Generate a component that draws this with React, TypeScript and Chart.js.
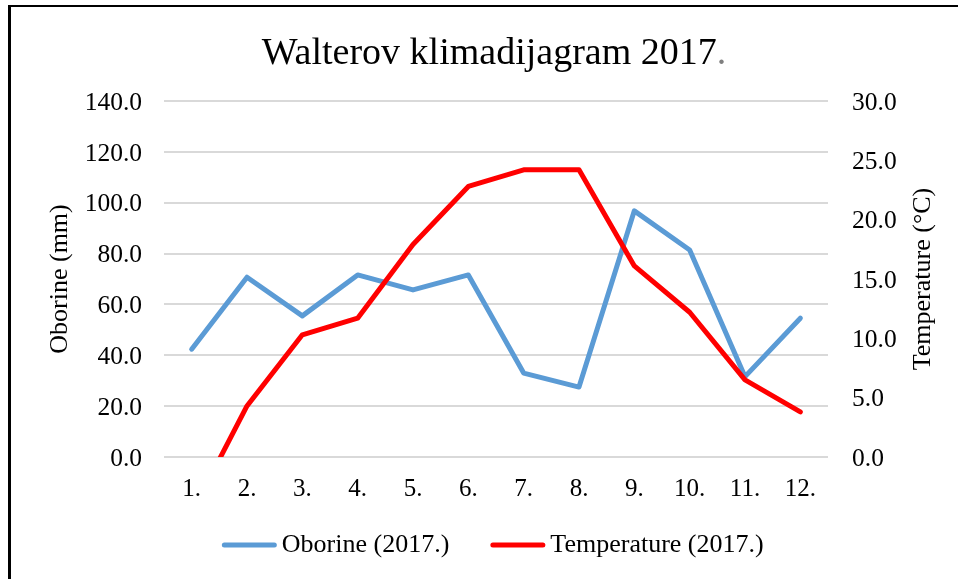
import React, { useEffect, useRef } from 'react';
import { Chart, registerables } from 'chart.js';

Chart.register(...registerables);

const months = ['1.', '2.', '3.', '4.', '5.', '6.', '7.', '8.', '9.', '10.', '11.', '12.'];
const oborine = [42.4, 70.7, 55.5, 71.6, 65.7, 71.6, 33.0, 27.5, 96.8, 81.4, 31.6, 54.6];
const temperature = [-4.7, 4.3, 10.3, 11.7, 17.9, 22.8, 24.2, 24.2, 16.1, 12.2, 6.5, 3.8];
const seriesNames = ['Oborine (2017.)', 'Temperature (2017.)'];
const titleMain = 'Walterov klimadijagram 2017';
const titleDot = '.';
const leftAxisTitle = 'Oborine (mm)';
const rightAxisTitle = 'Temperature (°C)';

const FONT = '"Liberation Serif", "Times New Roman", serif';
const BLUE = '#5b9bd5';
const RED = '#ff0000';

const W = 958;
const H = 579;
const CENTER_X = 494;

const overlayPlugin = {
  id: 'overlay',
  afterDraw(chart: any) {
    const ctx = chart.ctx as CanvasRenderingContext2D;
    const ca = chart.chartArea;
    // Title
    ctx.save();
    ctx.font = `38px ${FONT}`;
    ctx.textBaseline = 'alphabetic';
    ctx.textAlign = 'left';
    const wMain = ctx.measureText(titleMain).width;
    const wDot = ctx.measureText(titleDot).width;
    const tx = CENTER_X - (wMain + wDot) / 2;
    ctx.fillStyle = '#000';
    ctx.fillText(titleMain, tx, 64);
    ctx.fillStyle = '#7f7f7f';
    ctx.fillText(titleDot, tx + wMain, 64);
    ctx.restore();

    // Right axis title (reads bottom-to-top)
    ctx.save();
    ctx.font = `26px ${FONT}`;
    ctx.translate(923, (ca.top + ca.bottom) / 2);
    ctx.rotate(-Math.PI / 2);
    ctx.textAlign = 'center';
    ctx.textBaseline = 'middle';
    ctx.fillStyle = '#000';
    ctx.fillText(rightAxisTitle, 0, 0);
    ctx.restore();

    // Legend (order: Oborine, Temperature)
    ctx.save();
    ctx.font = `26px ${FONT}`;
    const items = [chart.data.datasets[1], chart.data.datasets[0]];
    const lineLen = 50;
    const gapLT = 7.5;
    const gapItems = 43.5;
    const widths = items.map((d: any) => ctx.measureText(d.label).width);
    const total = items.reduce((s: number, _d: any, i: number) => s + lineLen + gapLT + widths[i], 0) + gapItems * (items.length - 1);
    let x = CENTER_X - total / 2;
    const ly = 545;
    items.forEach((d: any, i: number) => {
      ctx.beginPath();
      ctx.strokeStyle = d.borderColor;
      ctx.lineWidth = 5;
      ctx.lineCap = 'round';
      ctx.moveTo(x, ly);
      ctx.lineTo(x + lineLen, ly);
      ctx.stroke();
      x += lineLen + gapLT;
      ctx.fillStyle = '#000';
      ctx.textAlign = 'left';
      ctx.textBaseline = 'middle';
      ctx.fillText(d.label, x, ly);
      x += widths[i] + gapItems;
    });
    ctx.restore();
  },
};

export default function App() {
  const canvasRef = useRef<HTMLCanvasElement | null>(null);

  useEffect(() => {
    const canvas = canvasRef.current;
    if (!canvas) return;
    const chart = new Chart(canvas, {
      type: 'line',
      data: {
        labels: months,
        datasets: [
          {
            label: seriesNames[1],
            data: temperature,
            yAxisID: 'y1',
            borderColor: RED,
            backgroundColor: RED,
            borderWidth: 5,
            pointRadius: 0,
            borderCapStyle: 'round',
            borderJoinStyle: 'round',
            tension: 0,
          },
          {
            label: seriesNames[0],
            data: oborine,
            yAxisID: 'y',
            borderColor: BLUE,
            backgroundColor: BLUE,
            borderWidth: 5,
            pointRadius: 0,
            borderCapStyle: 'round',
            borderJoinStyle: 'round',
            tension: 0,
          },
        ],
      },
      options: {
        responsive: false,
        animation: false,
        devicePixelRatio: 1,
        layout: { padding: { top: 101, left: 0, right: 0, bottom: 0 } },
        plugins: {
          legend: { display: false },
          title: { display: false },
          tooltip: { enabled: false },
        },
        scales: {
          x: {
            offset: true,
            grid: { display: false, drawTicks: false },
            border: { display: false },
            ticks: { color: '#000', font: { family: FONT, size: 25 }, padding: 17, maxRotation: 0, autoSkip: false },
            afterFit: (s: any) => { s.height = H - 457; },
          },
          y: {
            position: 'left',
            min: 0,
            max: 140,
            grid: { color: '#d9d9d9', lineWidth: 2, drawTicks: false },
            border: { display: false },
            ticks: {
              stepSize: 20,
              color: '#000',
              font: { family: FONT, size: 25.5 },
              padding: 22,
              labelOffset: 2,
              callback: (v: any) => Number(v).toFixed(1),
            },
            title: {
              display: true,
              text: leftAxisTitle,
              color: '#000',
              font: { family: FONT, size: 26 },
              padding: { top: 45, bottom: 0 },
            },
            afterFit: (s: any) => { s.width = 164; },
          },
          y1: {
            position: 'right',
            min: 0,
            max: 30,
            grid: { display: false, drawTicks: false },
            border: { display: false },
            ticks: {
              stepSize: 5,
              color: '#000',
              font: { family: FONT, size: 25.5 },
              padding: 24,
              labelOffset: 2,
              callback: (v: any) => Number(v).toFixed(1),
            },
            afterFit: (s: any) => { s.width = W - 828; },
          },
        },
      },
      plugins: [overlayPlugin],
    } as any);
    return () => chart.destroy();
  }, []);

  return (
    <div>
      <div
        style={{
          position: 'fixed',
          left: 8,
          top: 5,
          width: 1200,
          height: 800,
          borderLeft: '3px solid #000',
          borderTop: '2px solid #000',
          boxSizing: 'border-box',
        }}
      />
      <canvas
        ref={canvasRef}
        width={W}
        height={H}
        style={{ position: 'fixed', left: 0, top: 0, width: W, height: H }}
      />
    </div>
  );
}
